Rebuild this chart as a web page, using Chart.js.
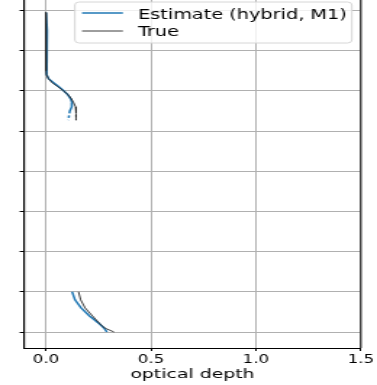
<!DOCTYPE html>
<html>
<head>
<meta charset="utf-8">
<script src="https://cdn.jsdelivr.net/npm/chart.js@4.4.1/dist/chart.umd.min.js"></script>
<style>
  html, body { margin: 0; padding: 0; background: #fff; overflow: hidden; }
  #wrap { width: 260px; height: 385px; transform: scaleX(1.45); transform-origin: 0 0; }
</style>
</head>
<body>
<div id="wrap"><canvas id="c" width="260" height="385"></canvas></div>
<script>
// ---- data ----
const levels      = [7.95, 7.5, 7.0, 6.5, 6.4, 6.3, 6.2, 6.1, 6.0, 5.9, 5.8, 5.7, 5.6, 5.5, 5.27, null, 1.0, 0.8, 0.6, 0.4, 0.2, 0.1, 0.0];
const estimate    = [0.0, 0.005, 0.003, 0.003, 0.004, 0.012, 0.036, 0.061, 0.084, 0.104, 0.117, 0.124, 0.122, 0.113, 0.106, null, 0.124, 0.138, 0.167, 0.207, 0.255, 0.276, 0.29];
const trueValues  = [-0.001, -0.001, 0.0, 0.0, 0.002, 0.012, 0.030, 0.057, 0.083, 0.105, 0.121, 0.132, 0.141, 0.143, 0.143, null, 0.155, 0.165, 0.186, 0.221, 0.257, 0.279, 0.324];
const tailLevel   = 5.27;           // last segment of upper profile is dashed
const seriesNames = ['Estimate (hybrid, M1)', 'True'];
const xTickLabels = ['0.0', '0.5', '1.0', '1.5'];
const xTitle      = 'optical depth';

const toPoints = vals => levels.map((lv, i) => ({ x: vals[i], y: lv }));
const dashTail = ctx => (ctx.p1.parsed.y === tailLevel ? [2.5, 2] : undefined);

Chart.defaults.font.family = "'DejaVu Sans', sans-serif";
Chart.defaults.color = '#000';

const frame = {
  id: 'frame',
  afterDraw(chart) {
    const { ctx, chartArea: a } = chart;
    ctx.save();
    // right spine
    ctx.strokeStyle = '#000';
    ctx.lineWidth = 1;
    ctx.beginPath();
    ctx.moveTo(a.right, a.top);
    ctx.lineTo(a.right, a.bottom);
    ctx.stroke();
    // legend box (upper right)
    const right = a.right - 6.2, left = right - 191, top = 2, bottom = 43, r = 3;
    ctx.beginPath();
    ctx.moveTo(left + r, top);
    ctx.lineTo(right - r, top);
    ctx.quadraticCurveTo(right, top, right, top + r);
    ctx.lineTo(right, bottom - r);
    ctx.quadraticCurveTo(right, bottom, right - r, bottom);
    ctx.lineTo(left + r, bottom);
    ctx.quadraticCurveTo(left, bottom, left, bottom - r);
    ctx.lineTo(left, top + r);
    ctx.quadraticCurveTo(left, top, left + r, top);
    ctx.closePath();
    ctx.fillStyle = 'rgba(255,255,255,0.8)';
    ctx.fill();
    ctx.strokeStyle = '#d6d6d6';
    ctx.lineWidth = 1;
    ctx.stroke();
    const rows = [13, 31];
    const base = [18.5, 36.4];
    chart.data.datasets.forEach((ds, i) => {
      ctx.strokeStyle = ds.borderColor;
      ctx.lineWidth = ds.borderWidth;
      ctx.setLineDash([]);
      ctx.beginPath();
      ctx.moveTo(left + 4.9, rows[i]);
      ctx.lineTo(left + 33.1, rows[i]);
      ctx.stroke();
      ctx.fillStyle = '#000';
      ctx.font = "13.3px 'DejaVu Sans', sans-serif";
      ctx.textBaseline = 'alphabetic';
      ctx.textAlign = 'left';
      ctx.fillText(ds.label, left + 43.5, base[i]);
    });
    ctx.restore();
  }
};

new Chart(document.getElementById('c'), {
  type: 'scatter',
  data: {
    datasets: [
      { label: seriesNames[0], data: toPoints(estimate), showLine: true, borderColor: '#1f77b4', backgroundColor: '#1f77b4',
        borderWidth: 1.5, pointRadius: 0, spanGaps: false, order: 2, segment: { borderDash: dashTail } },
      { label: seriesNames[1], data: toPoints(trueValues), showLine: true, borderColor: '#262626', backgroundColor: '#262626',
        borderWidth: 0.9, pointRadius: 0, spanGaps: false, order: 1, segment: { borderDash: dashTail } }
    ]
  },
  options: {
    responsive: false,
    animation: false,
    devicePixelRatio: 1,
    layout: { padding: { left: 13.55, right: 11, top: 0, bottom: 0 } },
    plugins: { legend: { display: false }, tooltip: { enabled: false } },
    scales: {
      x: {
        type: 'linear', position: 'bottom', min: -0.105, max: 1.5,
        ticks: { stepSize: 0.5, includeBounds: false, padding: 2, maxRotation: 0, autoSkip: false,
                 font: { size: 11.5 }, color: '#000', callback: (v, i) => xTickLabels[i] },
        grid: { color: '#b0b0b0', tickColor: '#000', tickLength: 3, lineWidth: 1 },
        border: { color: '#000', width: 1 },
        title: { display: true, text: xTitle, color: '#000', font: { size: 13 }, padding: { top: 0, bottom: 2.2 } },
        afterFit: s => { s.height = 37; }
      },
      y: {
        type: 'linear', min: -0.398, max: 8.259,
        ticks: { display: false, stepSize: 1, includeBounds: false },
        grid: { color: '#b0b0b0', tickColor: '#000', tickLength: 3, lineWidth: 1 },
        border: { color: '#000', width: 1.2 },
        afterFit: s => { s.width = 3; }
      }
    }
  },
  plugins: [frame]
});
</script>
</body>
</html>
